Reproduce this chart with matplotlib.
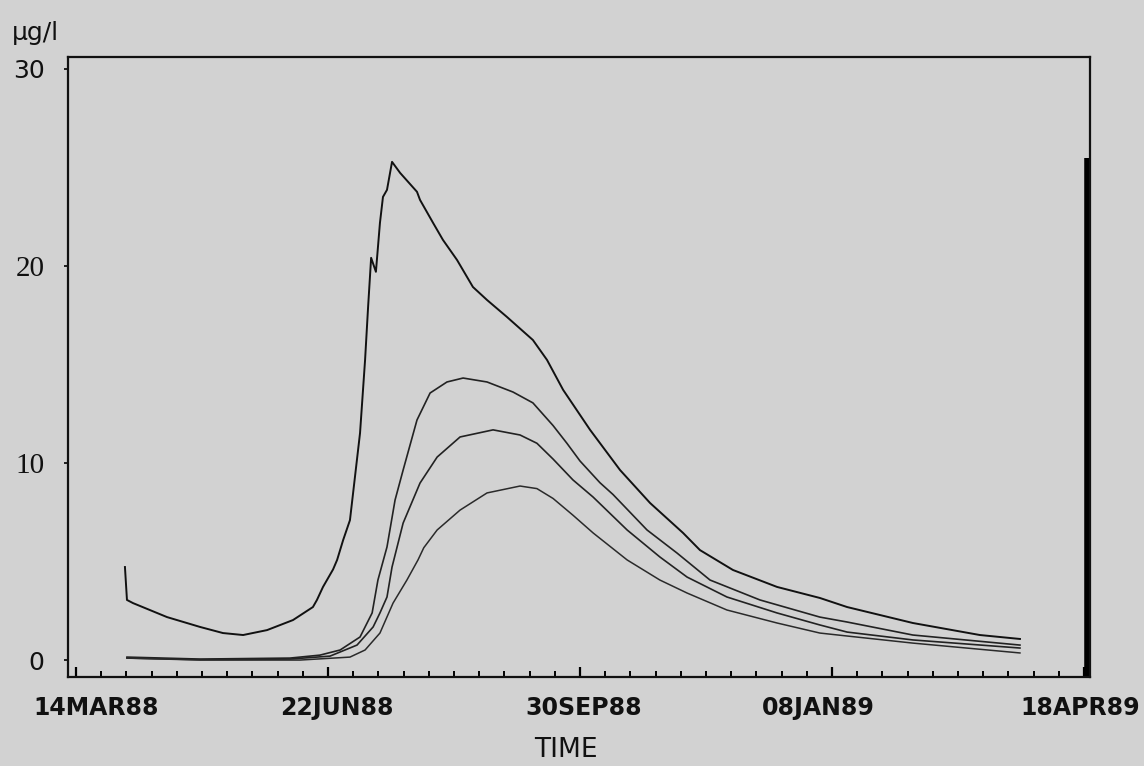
import matplotlib
matplotlib.use("Agg")
import matplotlib.pyplot as plt
from matplotlib.transforms import ScaledTranslation

# ---- data (x = days since 14MAR88, y = concentration in µg/l) ----
tick_days = [0, 100, 200, 300, 400]
tick_labels = ["14MAR88", "22JUN88", "30SEP88", "08JAN89", "18APR89"]
y_ticks = [0, 10, 20, 30]

a_days = [19.4, 20.2, 22.6, 36.1, 49.2, 58.3, 66.3, 75.8, 86.1, 94.0, 95.6, 98.0,
          102.0, 103.6, 106.0, 108.7, 112.7, 114.7, 115.9, 117.1, 119.0, 120.6,
          121.8, 123.4, 125.4, 128.6, 135.3, 136.5, 141.7, 145.6, 151.2, 157.5,
          163.1, 171.0, 181.3, 186.9, 193.3, 204.0, 215.9, 227.8, 240.9, 247.6,
          260.7, 278.2, 295.2, 306.0, 332.1, 358.7, 374.6]
a_vals = [4.72, 3.05, 2.89, 2.18, 1.68, 1.37, 1.27, 1.52, 2.03, 2.69, 3.05, 3.71,
          4.60, 5.08, 6.09, 7.10, 11.52, 15.23, 17.92, 20.41, 19.70, 22.18,
          23.50, 23.86, 25.28, 24.72, 23.76, 23.35, 22.18, 21.32, 20.30, 18.93,
          18.27, 17.41, 16.24, 15.23, 13.71, 11.68, 9.64, 7.97, 6.45, 5.58,
          4.57, 3.71, 3.15, 2.69, 1.88, 1.27, 1.07]

b_days = [20.2, 49.2, 84.9, 96.8, 104.8, 112.7, 117.5, 119.8, 123.4, 126.6, 129.8,
          135.3, 140.5, 147.2, 153.6, 163.1, 173.4, 181.3, 189.3, 194.8, 200.0,
          207.9, 213.1, 226.6, 238.5, 251.6, 271.4, 295.2, 306.0, 332.1, 374.6]
b_vals = [0.15, 0.05, 0.10, 0.25, 0.51, 1.17, 2.39, 4.06, 5.74, 8.12, 9.64,
          12.18, 13.55, 14.11, 14.31, 14.11, 13.60, 13.05, 11.90, 11.00, 10.10,
          9.00, 8.40, 6.60, 5.43, 4.06, 3.05, 2.18, 1.93, 1.27, 0.76]

c_days = [20.2, 49.2, 84.9, 100.8, 111.5, 117.9, 120.6, 123.4, 125.4, 129.8, 136.5,
          143.3, 152.4, 165.5, 176.2, 182.9, 189.3, 197.2, 205.2, 218.7,
          231.7, 242.5, 258.3, 278.2, 295.2, 306.0, 332.1, 374.6]
c_vals = [0.10, 0.02, 0.05, 0.20, 0.76, 1.68, 2.39, 3.20, 4.72, 6.95, 8.98,
          10.30, 11.32, 11.68, 11.42, 11.00, 10.20, 9.14, 8.27, 6.60,
          5.23, 4.21, 3.20, 2.39, 1.78, 1.42, 1.02, 0.61]

d_days = [20.2, 49.2, 88.9, 108.7, 114.7, 120.6, 125.8, 131.3, 135.7, 138.0, 143.3,
          152.4, 163.1, 176.2, 182.9, 189.3, 197.2, 205.2, 218.7, 231.7,
          242.5, 258.3, 278.2, 295.2, 306.0, 332.1, 374.6]
d_vals = [0.10, 0.0, 0.0, 0.15, 0.51, 1.37, 2.89, 4.06, 5.08, 5.70, 6.60,
          7.61, 8.48, 8.83, 8.70, 8.20, 7.35, 6.45, 5.08, 4.06,
          3.40, 2.54, 1.88, 1.37, 1.22, 0.86, 0.36]

right_bar_day = 401.3
right_bar_top = 25.5

# ---- figure ----
bg = "#d2d2d2"
fig = plt.figure(figsize=(11.44, 7.66), dpi=100, facecolor=bg)
ax = fig.add_axes([68 / 1144, 89 / 766, (1090 - 68) / 1144, (677 - 57) / 766])
ax.set_facecolor(bg)

ink = "#111111"
ax.plot(a_days, a_vals, color=ink, lw=1.4)
ax.plot(b_days, b_vals, color="#222222", lw=1.2)
ax.plot(c_days, c_vals, color="#222222", lw=1.2)
ax.plot(d_days, d_vals, color="#2a2a2a", lw=1.1)

ax.set_xlim(-3.2, 402.4)
ax.set_ylim(-0.86, 30.6)
ylo = ax.get_ylim()[0]
ax.plot([right_bar_day, right_bar_day], [ylo, right_bar_top], color="black",
        lw=4.0, solid_capstyle="butt", clip_on=False)

for s in ax.spines.values():
    s.set_linewidth(1.6)
    s.set_color("#111111")

ax.set_xticks(tick_days)
ax.set_xticklabels(tick_labels, fontsize=17, fontweight="bold",
                   family="DejaVu Sans", color="#111111")
ax.set_xticks(list(range(0, 401, 10)), minor=True)
ax.tick_params(axis="x", which="major", direction="in", length=7, width=1.6, pad=14)
ax.tick_params(axis="x", which="minor", direction="in", length=4, width=1.4)

# small horizontal shifts of the date labels, as in the original print
label_shift_px = [20, 9, 4, -14, -4]
for lbl, dx in zip(ax.get_xticklabels(), label_shift_px):
    lbl.set_transform(lbl.get_transform() +
                      ScaledTranslation(dx / 100, 0, fig.dpi_scale_trans))

ax.set_yticks(y_ticks)
ax.set_yticklabels([str(v) for v in y_ticks], fontsize=20, color="#111111")
ax.tick_params(axis="y", which="major", direction="out", length=3, width=1.2, pad=14)
for lbl in ax.get_yticklabels():
    if lbl.get_text() in ("10", "20"):
        lbl.set_family("Liberation Serif")
        lbl.set_fontsize(21)
    else:
        lbl.set_family("DejaVu Sans")
        lbl.set_fontsize(18)

fig.text(12 / 1144, 1 - 33 / 766, "µg/l", fontsize=18, family="DejaVu Sans",
         ha="left", va="center", color="#111111")
fig.text(566 / 1144, 1 - 750 / 766, "TIME", fontsize=19, family="DejaVu Sans",
         ha="center", va="center", color="#111111")

fig.savefig("out.png", dpi=100, facecolor=bg)
